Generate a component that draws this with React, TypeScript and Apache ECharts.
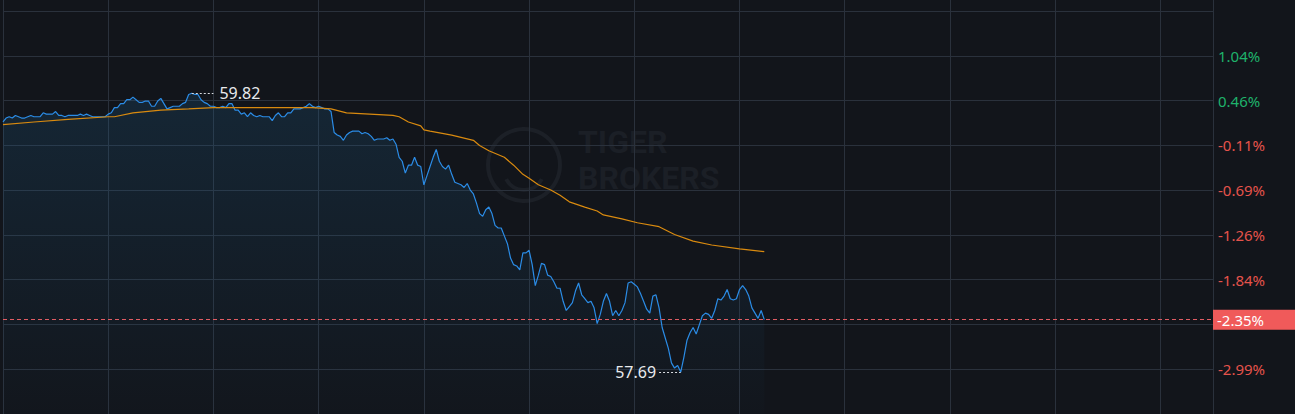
import React, { useEffect, useRef } from 'react';
import * as echarts from 'echarts';

// ---- data ----
const prevClose = 59.49;
const pctStep = 0.575; // % between horizontal grid lines
const topPct = 1.61; // % at the top grid line
// tick labels from bottom (index 0) to top (index 9); hidden ones left empty as in the picture
const yTickLabels = ['', '-2.99%', '', '-1.84%', '-1.26%', '-0.69%', '-0.11%', '0.46%', '1.04%', ''];
const sessionMinutes = 391;
const minuteTick = 34;

const prices = [
  59.60, 59.63, 59.64, 59.63, 59.65, 59.64, 59.63, 59.63, 59.64, 59.65,
  59.64, 59.64, 59.64, 59.67, 59.66, 59.66, 59.66, 59.68, 59.65, 59.65,
  59.64, 59.65, 59.65, 59.65, 59.65, 59.66, 59.65, 59.66, 59.65, 59.64,
  59.64, 59.64, 59.64, 59.64, 59.66, 59.67, 59.71, 59.71, 59.74, 59.74,
  59.77, 59.77, 59.79, 59.77, 59.75, 59.75, 59.76, 59.76, 59.72, 59.72,
  59.76, 59.78, 59.74, 59.70, 59.71, 59.72, 59.72, 59.72, 59.74, 59.75,
  59.81, 59.82, 59.81, 59.81, 59.77, 59.75, 59.74, 59.72, 59.72, 59.71,
  59.71, 59.72, 59.71, 59.74, 59.74, 59.69, 59.69, 59.66, 59.67, 59.64,
  59.67, 59.65, 59.64, 59.65, 59.64, 59.64, 59.64, 59.61, 59.65, 59.67,
  59.64, 59.64, 59.67, 59.67, 59.70, 59.70, 59.70, 59.71, 59.72, 59.74,
  59.72, 59.71, 59.72, 59.71, 59.70, 59.70, 59.68, 59.52, 59.50, 59.49,
  59.46, 59.50, 59.52, 59.53, 59.53, 59.53, 59.51, 59.52, 59.51, 59.49,
  59.46, 59.47, 59.47, 59.47, 59.48, 59.46, 59.47, 59.43, 59.33, 59.30,
  59.21, 59.27, 59.27, 59.33, 59.27, 59.26, 59.12, 59.19, 59.26, 59.33,
  59.39, 59.30, 59.26, 59.24, 59.27, 59.20, 59.14, 59.13, 59.12, 59.10,
  59.13, 59.08, 59.05, 58.98, 58.90, 58.88, 58.93, 58.95, 58.90, 58.81,
  58.79, 58.79, 58.73, 58.67, 58.56, 58.51, 58.50, 58.47, 58.60, 58.60,
  58.62, 58.51, 58.35, 58.43, 58.52, 58.51, 58.43, 58.42, 58.38, 58.33,
  58.33, 58.23, 58.16, 58.19, 58.22, 58.31, 58.37, 58.28, 58.25, 58.22,
  58.23, 58.18, 58.06, 58.13, 58.23, 58.29, 58.23, 58.12, 58.16, 58.12,
  58.16, 58.22, 58.37, 58.38, 58.36, 58.34, 58.29, 58.23, 58.17, 58.14,
  58.27, 58.28, 58.18, 58.03, 57.95, 57.87, 57.76, 57.72, 57.74, 57.69,
  57.80, 57.93, 57.99, 58.03, 57.98, 58.05, 58.12, 58.14, 58.13, 58.10,
  58.16, 58.25, 58.24, 58.27, 58.32, 58.25, 58.24, 58.25, 58.32, 58.35,
  58.32, 58.27, 58.18, 58.14, 58.10, 58.16, 58.09,
];

const avgMinutes = [
  0, 10, 21, 34, 36, 42, 51, 60, 68, 80, 100, 106, 111, 126, 128, 131, 135, 136, 138, 145,
  152, 154, 157, 162, 165, 168, 170, 173, 177, 180, 183, 188, 192, 194, 200, 205, 212, 217,
  223, 229, 238, 246,
];
const avgPrices = [
  59.58, 59.60, 59.62, 59.64, 59.64, 59.67, 59.69, 59.70, 59.71, 59.71, 59.71, 59.70, 59.67,
  59.65, 59.64, 59.60, 59.57, 59.54, 59.53, 59.50, 59.46, 59.42, 59.38, 59.33, 59.27, 59.20,
  59.17, 59.12, 59.08, 59.04, 58.99, 58.95, 58.92, 58.89, 58.86, 58.83, 58.80, 58.74, 58.69,
  58.66, 58.63, 58.61,
];

const watermarkLines = ['TIGER', 'BROKERS'];

const BG = '#12151b';
const GRID = '#2a313c';
const UP = '#1fb26b';
const DOWN = '#e5534b';
const FONT = 'Noto Sans';

export default function App() {
  const ref = useRef<HTMLDivElement>(null);

  useEffect(() => {
    if (!ref.current) return;
    const chart = echarts.init(ref.current, null, { renderer: 'svg' });

    const nSteps = yTickLabels.length - 1;
    const priceMax = prevClose * (1 + topPct / 100);
    const priceMin = prevClose * (1 + (topPct - nSteps * pctStep) / 100);

    let maxIdx = 0;
    let minIdx = 0;
    prices.forEach((p, i) => {
      if (p > prices[maxIdx]) maxIdx = i;
      if (p < prices[minIdx]) minIdx = i;
    });
    const maxVal = prices[maxIdx];
    const minVal = prices[minIdx];
    const last = prices[prices.length - 1];
    const lastPctText = ((last / prevClose - 1) * 100).toFixed(2) + '%';
    const leader = 7;

    const option: any = {
      animation: false,
      backgroundColor: BG,
      grid: [
        { left: 3, right: 82, top: 11, height: 405 },
        { left: 3, right: 82, top: 0, bottom: 0 },
      ],
      graphic: [
        {
          type: 'circle',
          z: 0,
          shape: { cx: 524, cy: 165, r: 36 },
          style: { fill: 'none', stroke: '#1c2027', lineWidth: 4 },
          silent: true,
        },
        {
          type: 'arc',
          z: 0,
          shape: { cx: 524, cy: 170, r: 20, startAngle: Math.PI * 0.15, endAngle: Math.PI * 0.85 },
          style: { fill: 'none', stroke: '#1c2027', lineWidth: 4 },
          silent: true,
        },
        {
          type: 'text',
          z: 0,
          x: 578,
          y: 126,
          style: { text: watermarkLines[0], fill: '#1b1f26', font: 'bold 32px Roboto', lineHeight: 32 },
          silent: true,
        },
        {
          type: 'text',
          z: 0,
          x: 578,
          y: 162,
          style: { text: watermarkLines[1], fill: '#1b1f26', font: 'bold 32px Roboto', lineHeight: 32 },
          silent: true,
        },
      ],
      xAxis: [
        { type: 'value', gridIndex: 0, min: 0, max: sessionMinutes, show: false },
        {
          type: 'value',
          gridIndex: 1,
          min: 0,
          max: sessionMinutes,
          interval: minuteTick,
          axisLine: { show: false },
          axisTick: { show: false },
          axisLabel: { show: false },
          splitLine: { show: true, lineStyle: { color: GRID, width: 1 } },
        },
      ],
      yAxis: [
        { type: 'value', gridIndex: 0, min: priceMin, max: priceMax, show: false },
        {
          type: 'value',
          gridIndex: 0,
          min: 0,
          max: nSteps,
          interval: 1,
          position: 'right',
          axisLine: { show: false },
          axisTick: { show: false },
          splitLine: { show: true, lineStyle: { color: GRID, width: 1 } },
          axisLabel: {
            margin: 5,
            fontSize: 15,
            fontFamily: FONT,
            formatter: (v: number) => yTickLabels[Math.round(Number(v))] || '',
            color: (v: any) => {
              const s = yTickLabels[Math.round(Number(v))] || '';
              return s.startsWith('-') ? DOWN : UP;
            },
          },
        },
        {
          type: 'value',
          gridIndex: 1,
          min: 0,
          max: 1,
          position: 'right',
          axisLine: { show: true, lineStyle: { color: GRID, width: 1 } },
          axisTick: { show: false },
          axisLabel: { show: false },
          splitLine: { show: false },
        },
      ],
      series: [
        {
          type: 'line',
          name: 'price',
          xAxisIndex: 0,
          yAxisIndex: 0,
          data: prices.map((p, i) => [i, p]),
          showSymbol: false,
          symbol: 'none',
          lineStyle: { color: '#2b8ce6', width: 1.2 },
          areaStyle: {
            color: new echarts.graphic.LinearGradient(0, 0, 0, 1, [
              { offset: 0, color: 'rgba(34, 110, 160, 0.28)' },
              { offset: 1, color: 'rgba(34, 110, 160, 0.02)' },
            ]),
          },
          z: 3,
          markLine: {
            silent: true,
            symbol: ['none', 'none'],
            animation: false,
            data: [
              {
                yAxis: last,
                lineStyle: { color: '#e05c63', type: [4, 3], width: 1 },
                label: {
                  show: true,
                  position: 'end',
                  distance: 0,
                  formatter: lastPctText,
                  color: '#ffffff',
                  backgroundColor: '#f05a5a',
                  fontSize: 15,
                  fontFamily: FONT,
                  padding: [3, 4, 2, 4],
                  width: 74,
                  align: 'left',
                },
              },
              [
                {
                  coord: [maxIdx, maxVal],
                  lineStyle: { color: '#d8dbe0', type: [2, 2], width: 1 },
                  label: {
                    show: true,
                    position: 'end',
                    distance: 6,
                    formatter: maxVal.toFixed(2),
                    color: '#e8eaed',
                    fontSize: 16,
                    fontFamily: FONT,
                  },
                },
                { coord: [maxIdx + leader, maxVal] },
              ],
              [
                {
                  coord: [minIdx - leader, minVal],
                  lineStyle: { color: '#d8dbe0', type: [2, 2], width: 1 },
                  label: {
                    show: true,
                    position: 'start',
                    distance: 3,
                    formatter: minVal.toFixed(2),
                    color: '#e8eaed',
                    fontSize: 16,
                    fontFamily: FONT,
                  },
                },
                { coord: [minIdx, minVal] },
              ],
            ],
          },
        },
        {
          type: 'line',
          name: 'avg',
          xAxisIndex: 0,
          yAxisIndex: 0,
          data: avgMinutes.map((m, i) => [m, avgPrices[i]]),
          showSymbol: false,
          symbol: 'none',
          lineStyle: { color: '#d98a0f', width: 1.2 },
          z: 4,
        },
      ],
    };

    chart.setOption(option);
    return () => chart.dispose();
  }, []);

  return (
    <div
      ref={ref}
      style={{ position: 'fixed', left: 0, top: 0, width: 1295, height: 414, background: BG }}
    />
  );
}
